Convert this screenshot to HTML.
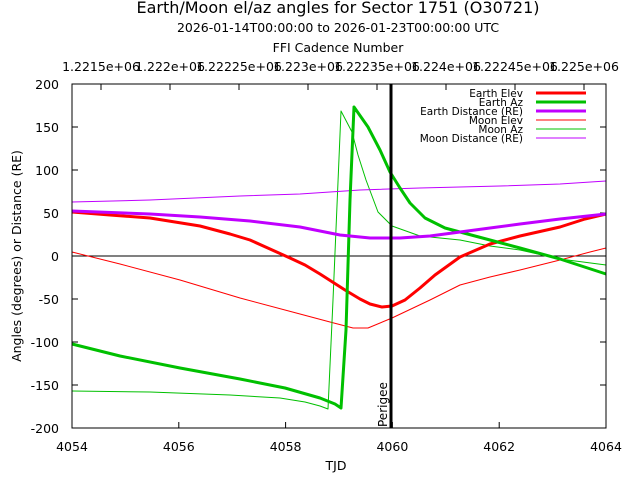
<!DOCTYPE html>
<html><head><meta charset="utf-8"><style>
body{margin:0;background:#fff}
svg{display:block;font-family:"DejaVu Sans","Liberation Sans",sans-serif}
</style></head><body>
<svg width="640" height="480" xmlns="http://www.w3.org/2000/svg">
<text x="338" y="13" font-size="16" text-anchor="middle">Earth/Moon el/az angles for Sector 1751 (O30721)</text>
<text x="338" y="32" font-size="12.5" text-anchor="middle">2026-01-14T00:00:00 to 2026-01-23T00:00:00 UTC</text>
<text x="338" y="52" font-size="12.5" text-anchor="middle">FFI Cadence Number</text>
<g font-size="12.5" text-anchor="middle">
<text x="101" y="71">1.2215e+06</text><text x="170" y="71">1.222e+06</text><text x="239" y="71">1.22225e+06</text><text x="308" y="71">1.223e+06</text><text x="377" y="71">1.22235e+06</text><text x="446" y="71">1.224e+06</text><text x="515" y="71">1.22245e+06</text><text x="584" y="71">1.225e+06</text>
</g>
<g stroke="#000" stroke-width="1">
<line x1="101" y1="84" x2="101" y2="90"/><line x1="170" y1="84" x2="170" y2="90"/><line x1="239" y1="84" x2="239" y2="90"/><line x1="308" y1="84" x2="308" y2="90"/><line x1="377" y1="84" x2="377" y2="90"/><line x1="446" y1="84" x2="446" y2="90"/><line x1="515" y1="84" x2="515" y2="90"/><line x1="584" y1="84" x2="584" y2="90"/>
<line x1="178.8" y1="428" x2="178.8" y2="422"/><line x1="285.6" y1="428" x2="285.6" y2="422"/><line x1="392.4" y1="428" x2="392.4" y2="422"/><line x1="499.2" y1="428" x2="499.2" y2="422"/>
<line x1="72" y1="127" x2="78" y2="127"/><line x1="72" y1="170" x2="78" y2="170"/><line x1="72" y1="213" x2="78" y2="213"/><line x1="72" y1="299" x2="78" y2="299"/><line x1="72" y1="342" x2="78" y2="342"/><line x1="72" y1="385" x2="78" y2="385"/>
<line x1="606" y1="127" x2="600" y2="127"/><line x1="606" y1="170" x2="600" y2="170"/><line x1="606" y1="213" x2="600" y2="213"/><line x1="606" y1="299" x2="600" y2="299"/><line x1="606" y1="342" x2="600" y2="342"/><line x1="606" y1="385" x2="600" y2="385"/>
<line x1="72" y1="256" x2="606" y2="256"/>
</g>
<g font-size="12.5" text-anchor="end">
<text x="59" y="89">200</text><text x="59" y="132">150</text><text x="59" y="175">100</text><text x="59" y="218">50</text><text x="59" y="261">0</text><text x="59" y="304">-50</text><text x="59" y="347">-100</text><text x="59" y="390">-150</text><text x="59" y="433">-200</text>
</g>
<g font-size="12.5" text-anchor="middle">
<text x="72" y="451">4054</text><text x="178.8" y="451">4056</text><text x="285.6" y="451">4058</text><text x="392.4" y="451">4060</text><text x="499.2" y="451">4062</text><text x="606" y="451">4064</text>
<text x="336" y="470">TJD</text>
<text transform="translate(21,256) rotate(-90)">Angles (degrees) or Distance (RE)</text>
</g>
<g fill="none" stroke-linejoin="round">
<polyline stroke="#ff0000" stroke-width="1" points="72,252 120,264 180,280 240,298 300,314 330,322 353,328 368,328 392,318 430,300 460,285 490,277 520,270 560,260 590,252 606,248"/>
<polyline stroke="#00c000" stroke-width="1" points="72,391 150,392 230,395 280,398 305,402 320,406 328,409 333,300 341,111 352,132 358,155 366,180 378,212 392,226 420,236 460,240 490,246 520,250 560,259 606,265"/>
<polyline stroke="#c000ff" stroke-width="1" points="72,202 150,200 240,196 300,194 360,190 420,188 500,186 560,184 606,181"/>
<polyline stroke="#ff0000" stroke-width="3" points="72,212 110,215 150,218 200,226 230,234 250,240 270,249 290,258 305,265 320,274 345,290 360,299 370,304 382,307 392,306 405,300 420,288 435,275 460,257 490,244 520,236 560,227 585,219 606,214"/>
<polyline stroke="#00c000" stroke-width="3" points="72,344 120,356 180,368 240,379 285,388 320,398 335,404 341,408 346,330 350,200 354,107 368,127 380,150 390,172 400,188 410,203 425,218 445,228 460,232 490,240 520,248 560,259 606,274"/>
<polyline stroke="#c000ff" stroke-width="3" points="72,211 150,214 200,217 250,221 300,227 340,235 370,238 400,238 430,236 460,232 490,228 520,224 560,219 606,214"/>
</g>
<rect x="72" y="84" width="534" height="344" fill="none" stroke="#000" stroke-width="1"/>
<line x1="391" y1="84" x2="391" y2="428" stroke="#000" stroke-width="3"/>
<text transform="translate(387,427) rotate(-90)" font-size="12">Perigee</text>
<g font-size="10.5" text-anchor="end">
<text x="523" y="97">Earth Elev</text><text x="523" y="106">Earth Az</text><text x="523" y="115">Earth Distance (RE)</text><text x="523" y="124">Moon Elev</text><text x="523" y="133">Moon Az</text><text x="523" y="142">Moon Distance (RE)</text>
</g>
<line x1="536" y1="93" x2="586" y2="93" stroke="#ff0000" stroke-width="3"/>
<line x1="536" y1="102" x2="586" y2="102" stroke="#00c000" stroke-width="3"/>
<line x1="536" y1="111" x2="586" y2="111" stroke="#c000ff" stroke-width="3"/>
<line x1="536" y1="120" x2="586" y2="120" stroke="#ff0000" stroke-width="1"/>
<line x1="536" y1="129" x2="586" y2="129" stroke="#00c000" stroke-width="1"/>
<line x1="536" y1="138" x2="586" y2="138" stroke="#c000ff" stroke-width="1"/>
</svg>
</body></html>
